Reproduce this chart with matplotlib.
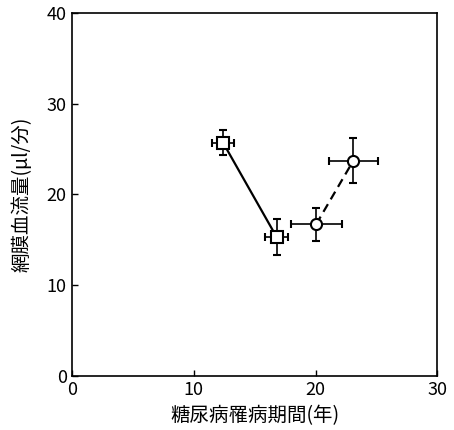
import matplotlib.pyplot as plt

plt.rcParams['font.family'] = ['Noto Sans CJK JP', 'DejaVu Sans']

# データ (糖尿病罹病期間 vs 網膜血流量)
sq_x = [12.4, 16.8]
sq_y = [25.7, 15.3]
sq_xerr = [0.9, 0.95]
sq_yerr = [1.4, 2.0]

ci_x = [20.05, 23.1]
ci_y = [16.7, 23.7]
ci_xerr = [2.1, 2.0]
ci_yerr = [1.8, 2.5]

xticks = [0, 10, 20, 30]
yticks = [0, 10, 20, 30, 40]

fig = plt.figure(figsize=(4.54, 4.30), dpi=100)
ax = fig.add_axes([0.159, 0.126, 0.804, 0.844])

ax.errorbar(sq_x, sq_y, xerr=sq_xerr, yerr=sq_yerr, fmt='-s', color='black',
            mfc='white', mec='black', ms=8, mew=1.5, lw=1.6, elinewidth=1.2,
            capsize=3, capthick=1.2)
ax.errorbar(ci_x, ci_y, xerr=ci_xerr, yerr=ci_yerr, fmt='--o', color='black',
            mfc='white', mec='black', ms=8, mew=1.5, lw=1.6, elinewidth=1.2,
            capsize=3, capthick=1.2, dashes=(4, 2.5))

ax.set_xlim(0, 30)
ax.set_ylim(0, 40)
ax.set_xticks(xticks)
ax.set_yticks(yticks)
ax.tick_params(direction='in', length=4, width=1, labelsize=13, pad=4)
for s in ax.spines.values():
    s.set_linewidth(1.2)

ax.set_xlabel('糖尿病罹病期間(年)', fontsize=14, labelpad=4)
ax.set_ylabel('網膜血流量(μl/分)', fontsize=14, labelpad=10)

fig.savefig('out.png', dpi=100)
